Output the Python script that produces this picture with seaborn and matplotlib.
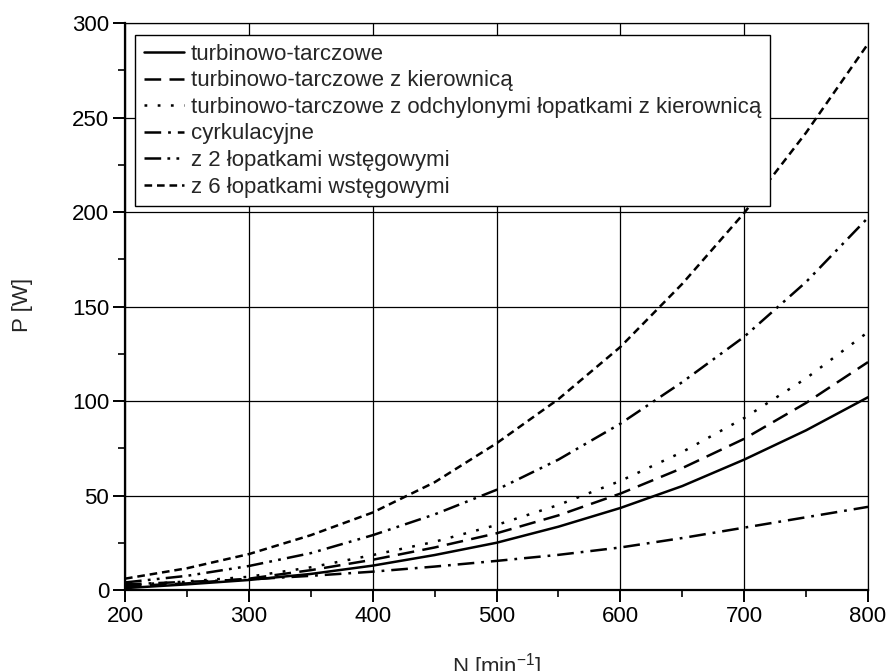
import numpy as np
import pandas as pd
import matplotlib
matplotlib.use('Agg')
import matplotlib.pyplot as plt
import seaborn as sns

# Prędkość obrotowa mieszadła [1/min]
N = [200, 250, 300, 350, 400, 450, 500, 550, 600, 650, 700, 750, 800]

# Moc mieszania [W] dla poszczególnych mieszadeł
turb_tarcz = [1, 3, 5.3, 8.5, 12.9, 18.5, 25, 33.5, 43.4, 55, 69, 84.5, 102]
turb_tarcz_kier = [2, 3.5, 6, 10.5, 16, 22.5, 30, 39.5, 51, 64.5, 80, 99, 120.6]
turb_tarcz_odch = [2.5, 4.5, 7, 12, 18.5, 25.5, 34.4, 45, 57.7, 73, 91, 112, 136.5]
cyrkulacyjne = [3, 4.3, 5.6, 7.5, 9.7, 12.4, 15.4, 18.6, 22.5, 27.5, 33, 38.5, 44]
wstegowe_2 = [4, 7.5, 12.7, 19.5, 29, 40, 53, 69, 88, 110, 134, 163, 197]
wstegowe_6 = [6, 11.5, 19, 29, 41, 57, 77.6, 101, 128.6, 162, 199.5, 242, 289]

etykiety = ['turbinowo-tarczowe',
            'turbinowo-tarczowe z kierownicą',
            'turbinowo-tarczowe z odchylonymi łopatkami z kierownicą',
            'cyrkulacyjne',
            'z 2 łopatkami wstęgowymi',
            'z 6 łopatkami wstęgowymi']
serie = [turb_tarcz, turb_tarcz_kier, turb_tarcz_odch, cyrkulacyjne, wstegowe_2, wstegowe_6]

# Style linii (w punktach)
style = ['-',
         (0, (12, 6)),
         (0, (2, 7.5)),
         (0, (12, 5, 2, 5)),
         (0, (12, 4.5, 2, 4.5, 2, 4.5)),
         (0, (5.5, 3.5))]

sns.set_style('ticks')
plt.rcParams['font.family'] = ['Liberation Sans', 'DejaVu Sans']
plt.rcParams['mathtext.fontset'] = 'custom'
plt.rcParams['mathtext.rm'] = 'Liberation Sans'
plt.rcParams['mathtext.default'] = 'regular'
plt.rcParams['lines.scale_dashes'] = False

fig = plt.figure(figsize=(8.89, 6.71), dpi=100)
ax = fig.add_axes([0.1406, 0.1207, 0.8358, 0.845])

for y, lab, ls in zip(serie, etykiety, style):
    sns.lineplot(x=N, y=y, ax=ax, color='black', linewidth=1.8, linestyle=ls, label=lab)

ax.set_xlim(200, 800)
ax.set_ylim(0, 300)
ax.set_xticks(range(200, 801, 100))
ax.set_yticks(range(0, 301, 50))
ax.set_xticks(range(250, 800, 100), minor=True)
ax.set_yticks(range(25, 300, 50), minor=True)
ax.grid(True, which='major', color='black', linewidth=0.9)
ax.set_axisbelow(True)

for s in ['left', 'bottom']:
    ax.spines[s].set_linewidth(1.6)
for s in ['top', 'right']:
    ax.spines[s].set_linewidth(0.9)
    ax.spines[s].set_visible(True)
for s in ax.spines.values():
    s.set_color('black')

ax.tick_params(which='major', direction='out', length=8.5, width=1.4, labelsize=16, colors='black', pad=3)
ax.tick_params(which='minor', direction='out', length=5, width=1.4)

ax.set_xlabel('N [min$^{-1}$]', fontsize=16)
ax.set_ylabel('P [W]', fontsize=16)
ax.xaxis.set_label_coords(0.5, -0.108)
ax.yaxis.set_label_coords(-0.124, 0.503)

leg = ax.legend(loc='upper left', bbox_to_anchor=(0.0135, 0.979), borderaxespad=0,
                fontsize=16, frameon=True, fancybox=False, framealpha=1,
                handlelength=1.8, handletextpad=0.3, labelspacing=0.25,
                borderpad=0.4)
leg.get_frame().set_edgecolor('black')
leg.get_frame().set_linewidth(1.0)

fig.savefig('out.png', dpi=100)
